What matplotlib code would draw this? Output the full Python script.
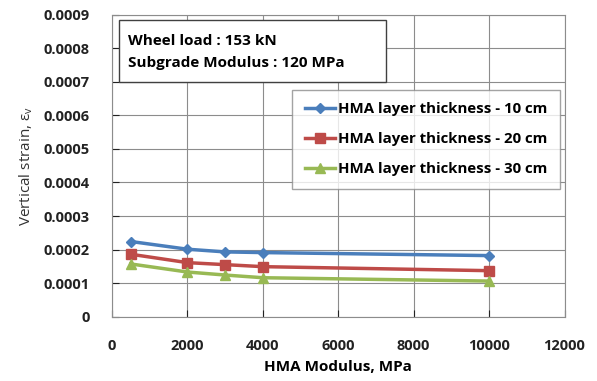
import matplotlib
matplotlib.use('Agg')
import matplotlib.pyplot as plt
from matplotlib.patches import Rectangle

plt.rcParams['font.family'] = ['Open Sans', 'DejaVu Sans']
plt.rcParams['font.weight'] = 'bold'

modulus = [500, 2000, 3000, 4000, 10000]
strain_10 = [0.000224, 0.000201, 0.000193, 0.000191, 0.000182]
strain_20 = [0.000186, 0.000161, 0.000155, 0.000149, 0.000137]
strain_30 = [0.000157, 0.000133, 0.000124, 0.000116, 0.000106]
labels = ['HMA layer thickness - 10 cm', 'HMA layer thickness - 20 cm', 'HMA layer thickness - 30 cm']
xticks = [0, 2000, 4000, 6000, 8000, 10000, 12000]
yticks = [0, 0.0001, 0.0002, 0.0003, 0.0004, 0.0005, 0.0006, 0.0007, 0.0008, 0.0009]

fig = plt.figure(figsize=(5.97, 3.81), dpi=100)
ax = fig.add_axes([0.1876, 0.169, 0.758, 0.792])

ax.plot(modulus, strain_10, color='#4a7ebb', marker='D', ms=5, lw=2.5, label=labels[0])
ax.plot(modulus, strain_20, color='#be4b48', marker='s', ms=7, lw=2.5, label=labels[1])
ax.plot(modulus, strain_30, color='#98b954', marker='^', ms=7, lw=2.5, label=labels[2])

ax.set_xlim(0, 12000)
ax.set_ylim(0, 0.0009)
ax.set_xticks(xticks)
ax.set_yticks(yticks)
ax.set_xticklabels([str(t) for t in xticks])
ax.set_yticklabels(['0'] + ['%.4f' % t for t in yticks[1:]])
ax.tick_params(labelsize=10.5, length=5, direction='in', colors='#222222')
ax.tick_params(axis='y', pad=16)
ax.tick_params(axis='x', pad=16)
ax.grid(True, color='#8c8c8c', lw=0.8)
for s in ax.spines.values():
    s.set_color('#8c8c8c')
ax.set_axisbelow(True)

ax.set_xlabel('HMA Modulus, MPa', fontsize=11, fontweight='bold', labelpad=5)
ax.set_ylabel('Vertical strain, $\\mathregular{\\varepsilon_v}$', fontsize=11, fontweight='normal',
              color='#333333', labelpad=6)

# annotation box
ax.add_patch(Rectangle((0.0155, 0.778), 0.59, 0.205, transform=ax.transAxes,
                       fc='white', ec='#404040', lw=1, zorder=5))
ax.text(0.035, 0.913, 'Wheel load : 153 kN', transform=ax.transAxes,
        fontsize=11, fontweight='bold', va='center', ha='left', zorder=6)
ax.text(0.035, 0.84, 'Subgrade Modulus : 120 MPa', transform=ax.transAxes,
        fontsize=11, fontweight='bold', va='center', ha='left', zorder=6)

leg = ax.legend(loc='upper right', bbox_to_anchor=(1.007, 0.777), fontsize=10.8, frameon=True,
                fancybox=False, edgecolor='#8c8c8c', labelspacing=1.05, handlelength=2.0,
                borderpad=0.85, handletextpad=0.2)
leg.get_frame().set_linewidth(1)

plt.savefig('out.png', dpi=100)
